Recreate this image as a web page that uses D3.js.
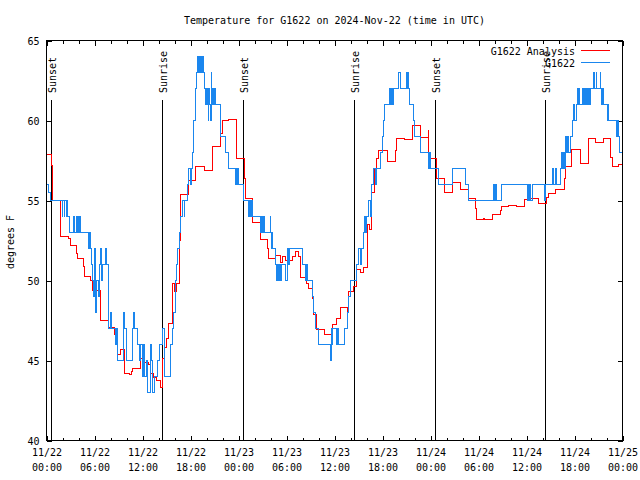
<!DOCTYPE html>
<html><head><meta charset="utf-8">
<script src="https://cdn.jsdelivr.net/npm/d3@7"></script>
<style>
body{margin:0;background:#fff}
svg{display:block}
text{font-family:"DejaVu Sans Mono",monospace;font-size:10px;fill:#000}
</style>
</head><body>
<svg id="chart" width="640" height="480"></svg>
<script>
// ---- data ----
const titleText = "Temperature for G1622 on 2024-Nov-22 (time in UTC)";
const yLabel = "degrees F";
const startDate = "2024-11-22T00:00:00Z";
const spanHours = 72;
const yDomain = [40, 65];
const yTicks = [40, 45, 50, 55, 60, 65];
const xMajorStepHours = 6;
const xMinorStepHours = 2;
const seriesNames = ["G1622 Analysis", "G1622"];
const seriesColors = ["#ff0000", "#1a86ee"];

const analysisHours = [0,0.62,0.7,0.75,1.75,1.8,2.7,3.0,3.7,3.9,4.6,4.75,5.5,5.7,6.75,7.7,8.5,8.6,8.9,9.3,9.75,10.4,10.65,10.8,11.75,12.1,12.7,13.0,13.4,13.8,14.25,14.55,14.75,15.0,15.3,15.7,15.8,16.0,16.25,16.6,16.75,17.8,18.6,19.7,20.7,20.8,21.75,21.95,22.8,23.75,24.7,24.9,25.7,25.8,26.75,26.8,27.6,27.8,28.6,29.25,29.5,29.9,30.7,31.1,31.5,31.75,32.5,32.8,33.2,33.4,33.75,34.75,35.7,36.3,36.75,37.6,37.7,38.4,38.75,39.2,39.6,40.1,40.4,40.6,41.0,41.3,41.5,42.6,43.6,43.8,44.7,45.7,46.75,47.7,47.8,48.7,49.75,50.7,51.7,52.7,53.6,53.75,54.6,54.75,55.7,56.75,56.9,57.8,58.75,59.7,60.5,61.5,62.5,62.8,63.6,64.7,64.9,65.6,66.7,67.7,68.6,69.6,70.5,70.7,71.5,72];
const analysisTemps = [57.9,57.2,55.6,55.0,53.85,52.75,52.6,52.2,51.7,51.35,50.9,50.25,50.0,49.4,47.5,47.05,46.6,46.1,45.4,45.7,44.2,44.1,44.3,44.5,45.1,44.9,44.75,44.2,43.95,43.75,43.3,45.1,45.8,46.35,47.3,48.55,49.8,49.3,49.8,52.5,55.4,56.25,57.1,56.9,57.7,58.4,59.2,60.0,60.05,57.6,56.35,55.1,54.5,53.65,53.0,52.55,52.0,51.4,51.55,51.15,51.5,51.25,51.5,51.8,51.5,50.2,49.8,49.5,48.85,47.9,46.95,46.6,47.25,47.6,48.3,48.0,49.3,49.6,50.7,50.5,50.8,53.5,53.2,55.5,57.0,57.6,58.1,57.45,58.1,58.9,58.8,59.7,58.95,59.4,57.6,56.4,55.5,56.15,55.7,55.15,54.5,53.8,53.9,53.8,54.1,54.4,54.6,54.7,54.6,55.05,55.1,54.8,55.2,55.45,55.7,56.35,57.1,58.2,57.3,58.85,58.65,58.85,57.7,57.1,57.25,57.25];

const obsHours = [0,0.3,0.5,1.95,2.05,2.2,2.3,2.45,2.55,2.65,2.9,3.35,3.45,3.75,3.85,3.95,4.05,4.15,4.3,5.2,5.35,5.5,5.6,5.8,5.9,6.0,6.1,6.15,6.3,6.45,6.6,6.75,6.9,7.05,7.35,7.55,7.7,8.0,8.1,8.6,8.75,8.9,9.6,9.7,10.0,10.7,10.9,11.0,11.4,11.6,11.8,12.0,12.1,12.2,12.5,12.6,13.0,13.1,13.2,13.5,13.9,14.1,14.5,14.7,15.5,15.8,15.9,16.1,16.25,16.4,16.6,16.8,17.0,17.2,17.3,17.6,17.8,18.0,18.1,18.2,18.4,18.6,18.75,18.9,19.0,19.1,19.2,19.3,19.4,19.5,19.6,19.75,19.9,20.0,20.1,20.2,20.3,20.35,20.5,20.6,20.65,20.8,20.9,21.0,21.1,21.75,22.4,22.8,23.6,23.7,23.8,23.9,24.0,24.65,25.3,25.4,25.5,25.6,25.7,26.75,26.85,27.0,27.1,27.2,28.0,28.05,28.1,28.15,28.3,28.6,28.8,28.9,29.0,29.1,29.25,29.35,29.9,30.1,30.2,30.35,32.0,32.4,32.5,32.6,33.2,33.4,33.6,34.0,35.5,35.6,35.7,35.8,36.3,36.35,36.5,37.2,37.6,37.8,38.0,38.8,39.0,39.2,39.4,39.6,39.8,39.9,40.0,40.3,40.5,40.6,40.9,41.1,41.3,41.7,41.95,42.1,42.25,42.9,43.0,43.1,43.2,43.4,44.0,44.25,45.0,45.1,45.15,45.25,45.35,45.9,46.0,46.7,47.8,47.85,47.95,49.05,50.7,52.4,52.7,55.9,56.0,56.1,56.2,56.9,60.1,60.2,60.35,60.45,60.55,60.7,62.2,62.35,63.3,63.4,63.6,63.7,64.3,64.4,64.5,64.6,64.7,64.9,65.0,65.1,65.2,65.5,65.7,65.9,66.0,66.25,66.35,66.45,66.55,66.65,67.0,67.1,67.2,67.4,67.5,67.6,67.75,67.85,68.0,68.4,68.55,68.7,68.8,69.2,69.3,69.4,69.5,69.6,70.1,70.2,70.3,71.3,71.4,71.5,71.6,72];
const obsTemps = [56,55.5,55,54,55,54,55,54,55,54,53,54,53,54,53,54,53,54,53,52,53,52,51,50,49,52,50,48,50,49,51,52,50,51,52,51,47,48,47,46,47,45,48,47,45,47,48,47,46,45,46,44,46,44,45,43,46,45,43,44,45,46,47,44,46,47,48,50,51,52,53,54,55,54,55,56,57,56,57,58,60,62,63,64,63,64,63,64,63,64,63,62,61,62,61,60,62,61,60,63,61,62,61,62,61,59,58,57,56,57,56,57,56,55,54,55,54,55,54,53,54,53,54,53,54,53,52,53,52,51,50,51,50,51,50,51,50,52,51,52,51,50,51,50,49,48,47,46,45,47,46,47,46,47,46,47,48,49,50,51,52,51,52,53,54,53,54,55,54,56,57,56,57,58,59,60,61,62,61,62,61,62,63,62,63,62,63,62,61,60,59,58,57,58,57,56,57,56,55,56,55,56,55,56,55,56,55,56,55,56,55,56,57,56,57,56,57,58,57,58,57,59,58,59,58,59,60,61,60,61,62,61,62,61,62,61,62,61,62,61,62,61,62,63,62,63,62,63,62,61,62,61,60,61,60,59,60,59,58,58];

const eventLabels = ["Sunset", "Sunrise", "Sunset", "Sunrise", "Sunset", "Sunrise"];
const eventHours = [0.62, 14.5, 24.62, 38.5, 48.6, 62.4];

// ---- chart ----
const svg = d3.select("#chart");
const L = 46.5, R = 622.5, T = 40.5, B = 440.5;
const t0 = new Date(startDate);
const t1 = d3.utcHour.offset(t0, spanHours);
const hourToDate = h => new Date(t0.getTime() + h * 3600000);

const x = d3.scaleUtc().domain([t0, t1]).range([L, R]);
const y = d3.scaleLinear().domain(yDomain).range([B, T]);

svg.append("rect").attr("width", 640).attr("height", 480).attr("fill", "#fff");

svg.append("defs").append("clipPath").attr("id", "plotclip")
  .append("rect").attr("x", L).attr("y", T).attr("width", R - L).attr("height", B - T);

const majorTicks = d3.range(0, spanHours + 0.001, xMajorStepHours).map(hourToDate);
const minorTicks = d3.range(0, spanHours + 0.001, xMinorStepHours)
  .filter(h => h % xMajorStepHours !== 0).map(hourToDate);

const fmtDay = d3.utcFormat("%m/%d");
const fmtTime = d3.utcFormat("%H:%M");

const gB = svg.append("g").attr("transform", `translate(0,${B})`)
  .call(d3.axisBottom(x).tickValues(majorTicks).tickSize(-5).tickPadding(0).tickFormat(""));
gB.selectAll(".tick").each(function(d) {
  const t = d3.select(this).append("text").attr("text-anchor", "middle").attr("fill", "#000");
  t.append("tspan").attr("x", 0).attr("y", 15).text(fmtDay(d));
  t.append("tspan").attr("x", 0).attr("y", 30).text(fmtTime(d));
});
svg.append("g").attr("transform", `translate(0,${B})`)
  .call(d3.axisBottom(x).tickValues(minorTicks).tickSize(-3).tickFormat(""));
svg.append("g").attr("transform", `translate(0,${T})`)
  .call(d3.axisTop(x).tickValues(majorTicks).tickSize(-5).tickFormat(""));
svg.append("g").attr("transform", `translate(0,${T})`)
  .call(d3.axisTop(x).tickValues(minorTicks).tickSize(-3).tickFormat(""));
const gL = svg.append("g").attr("transform", `translate(${L},0)`)
  .call(d3.axisLeft(y).tickValues(yTicks).tickSize(-5).tickPadding(7).tickFormat(d3.format("d")));
svg.append("g").attr("transform", `translate(${R},0)`)
  .call(d3.axisRight(y).tickValues(yTicks).tickSize(-5).tickFormat(""));

svg.selectAll(".domain").remove();
svg.selectAll(".tick line").attr("stroke", "#000").attr("shape-rendering", "crispEdges");
svg.selectAll(".tick text").attr("font-family", '"DejaVu Sans Mono", monospace').attr("font-size", 10).attr("fill", "#000");
gL.selectAll(".tick text").attr("dy", "0.35em");

const ev = svg.append("g");
eventHours.forEach((h, i) => {
  const ex = Math.round(x(hourToDate(h)) - 0.5) + 0.5;
  ev.append("line").attr("x1", ex).attr("x2", ex).attr("y1", 100).attr("y2", B)
    .attr("stroke", "#000").attr("stroke-width", 1).attr("shape-rendering", "crispEdges");
  ev.append("text").attr("transform", `translate(${ex + 4},93) rotate(-90)`)
    .attr("text-anchor", "start").text(eventLabels[i]);
});

const line = d3.line()
  .x(d => x(hourToDate(d[0])))
  .y(d => y(d[1]))
  .curve(d3.curveStepAfter);

const analysisPts = analysisHours.map((h, i) => [h, analysisTemps[i]]);
const obsPts = obsHours.map((h, i) => [h, obsTemps[i]]);

const gS = svg.append("g").attr("clip-path", "url(#plotclip)");
gS.append("path").datum(analysisPts).attr("d", line).attr("fill", "none")
  .attr("stroke", seriesColors[0]).attr("stroke-width", 1).attr("shape-rendering", "crispEdges");
gS.append("path").datum(obsPts).attr("d", line).attr("fill", "none")
  .attr("stroke", seriesColors[1]).attr("stroke-width", 1).attr("shape-rendering", "crispEdges");

svg.append("rect").attr("x", L).attr("y", T).attr("width", R - L).attr("height", B - T)
  .attr("fill", "none").attr("stroke", "#000").attr("shape-rendering", "crispEdges");

seriesNames.forEach((name, i) => {
  const ly = 50.5 + i * 12;
  svg.append("text").attr("x", 575).attr("y", ly + 4).attr("text-anchor", "end").text(name);
  svg.append("line").attr("x1", 581).attr("x2", 610).attr("y1", ly).attr("y2", ly)
    .attr("stroke", seriesColors[i]).attr("stroke-width", 1).attr("shape-rendering", "crispEdges");
});

svg.append("text").attr("x", (L + R) / 2).attr("y", 24).attr("text-anchor", "middle").text(titleText);
svg.append("text").attr("transform", `translate(14,242) rotate(-90)`).attr("text-anchor", "middle").text(yLabel);
</script>
</body></html>
